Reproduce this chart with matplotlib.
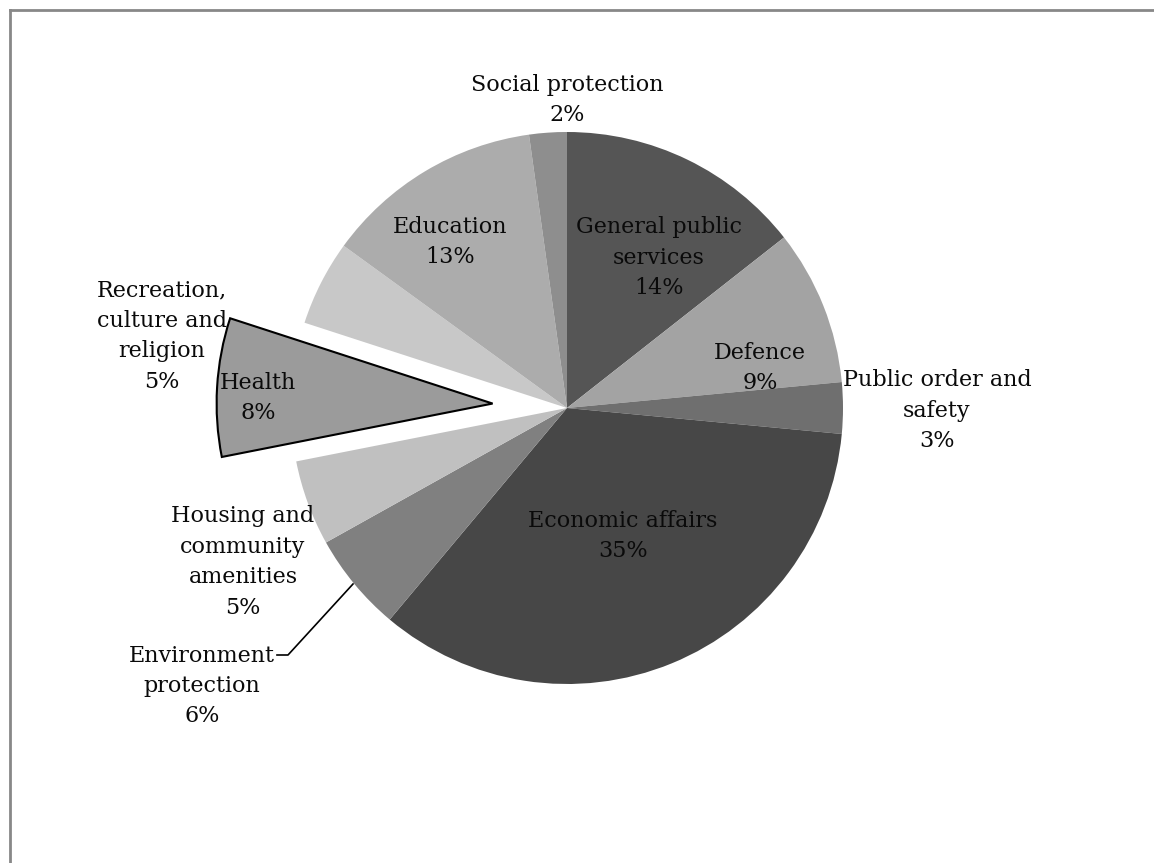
# Government expenditure by function - pie chart redraw
import numpy as np
import matplotlib
matplotlib.use("Agg")
import matplotlib.pyplot as plt
from matplotlib.lines import Line2D

# slices, clockwise from 12 o'clock
categories = ["General public\nservices", "Defence", "Public order and\nsafety",
              "Economic affairs", "Environment\nprotection",
              "Housing and\ncommunity\namenities", "Health",
              "Recreation,\nculture and\nreligion", "Education", "Social protection"]
shares = [14.4, 9.1, 3.0, 34.6, 5.8, 5.0, 8.1, 5.0, 12.8, 2.2]
colors = ["#555555", "#a3a3a3", "#6f6f6f", "#474747", "#808080",
          "#c0c0c0", "#9b9b9b", "#c8c8c8", "#acacac", "#8e8e8e"]

# label anchor points (pixels, image coords)
label_pos = [(659, 258), (760, 368), (937, 411), (623, 536), (202, 686),
             (243, 562), (258, 398), (162, 336), (450, 242), (567, 100)]

W, H = 1154, 863

def main():
	fig = plt.figure(figsize=(W / 100, H / 100), dpi=100)
	ax = fig.add_axes([0, 0, 1, 1])

	cx, cy, r = 567, H - 408, 276
	# pie() takes the explode offset in data units, not radius fractions
	explode = [0.27 * r if c == "Health" else 0 for c in categories]
	wedges, _ = ax.pie(shares, colors=colors, startangle=90, counterclock=False,
					   center=(cx, cy), radius=r, explode=explode,
					   wedgeprops=dict(linewidth=0))
	ax.set_xlim(0, W)
	ax.set_ylim(0, H)
	ax.set_aspect("equal")
	ax.axis("off")
	for w, c in zip(wedges, categories):
		if c == "Health":
			w.set_edgecolor("black")
			w.set_linewidth(1.5)

	for c, v, (x, y) in zip(categories, shares, label_pos):
		ax.text(x, H - y, "%s\n%.0f%%" % (c, v), ha="center", va="center",
				fontsize=16, family="DejaVu Serif", color="#0a0a0a",
				linespacing=1.5)

	# leader line for Environment protection
	ax.plot([277, 288, 353], [H - 655, H - 655, H - 584], color="black", lw=1.2)

	# chart area border (only top and left visible)
	fig.add_artist(Line2D([9.5 / W, 1], [1 - 10.5 / H, 1 - 10.5 / H],
						  transform=fig.transFigure, color="#888888", lw=2))
	fig.add_artist(Line2D([9.5 / W, 9.5 / W], [0, 1 - 10.5 / H],
						  transform=fig.transFigure, color="#888888", lw=2))

	fig.savefig("out.png", dpi=100)

if __name__ == "__main__":
	main()
